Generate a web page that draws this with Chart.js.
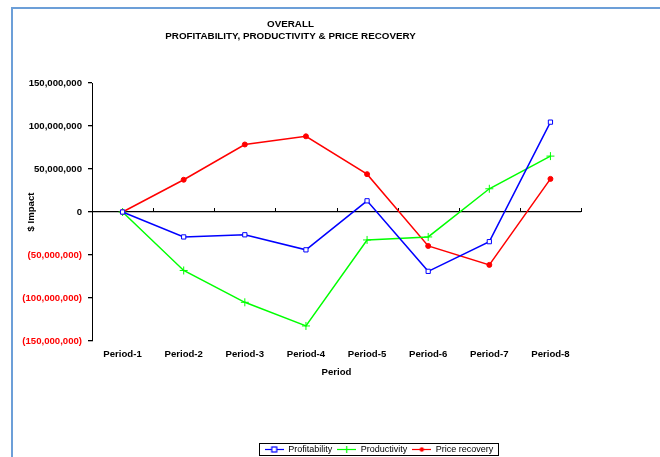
<!DOCTYPE html>
<html>
<head>
<meta charset="utf-8">
<script src="https://cdn.jsdelivr.net/npm/chart.js@4.4.1/dist/chart.umd.min.js"></script>
<style>
  html, body { margin: 0; padding: 0; background: #fff; }
  #wrap { position: relative; width: 660px; height: 457px; overflow: hidden; }
  #frame {
    position: absolute; left: 11px; top: 7px; width: 660px; height: 460px;
    border-top: 2px solid #6c9fd8; border-left: 2px solid #6c9fd8;
    pointer-events: none;
  }
</style>
</head>
<body>
<div id="wrap">
  <canvas id="chart" width="660" height="457"></canvas>
  <div id="frame"></div>
</div>
<script>
// 카테고리 / 시리즈 값
const periods = ['Period-1', 'Period-2', 'Period-3', 'Period-4', 'Period-5', 'Period-6', 'Period-7', 'Period-8'];
const profitability = [0, -29000000, -26500000, -44000000, 13000000, -69000000, -34500000, 104500000];
const productivity = [0, -68000000, -105000000, -132500000, -32500000, -29000000, 27000000, 65000000];
const priceRecovery = [0, 37500000, 78500000, 88000000, 44000000, -39500000, -61500000, 38500000];
const yTicks = [-150000000, -100000000, -50000000, 0, 50000000, 100000000, 150000000];

const FONT = 'Liberation Sans, Arial, sans-serif';

function fmt(v) {
    const s = Math.abs(v).toLocaleString('en-US');
    return v < 0 ? '(' + s + ')' : s;
}

// 범례용 선 + 마커 이미지
function legendIcon(color, style) {
    const c = document.createElement('canvas');
    c.width = 19; c.height = 9;
    const g = c.getContext('2d');
    g.strokeStyle = color; g.lineWidth = 1.2;
    g.beginPath(); g.moveTo(0, 4.5); g.lineTo(19, 4.5); g.stroke();
    g.fillStyle = color;
    if (style === 'rect') {
        g.fillStyle = '#fff';
        g.fillRect(7, 2, 5, 5);
        g.strokeRect(7, 2, 5, 5);
    } else if (style === 'cross') {
        g.beginPath(); g.moveTo(9.5, 1); g.lineTo(9.5, 8); g.stroke();
    } else {
        g.beginPath(); g.arc(9.5, 4.5, 2.2, 0, Math.PI * 2); g.fill();
    }
    return c;
}

// 0 기준선 위의 작은 눈금
const zeroTicks = {
    id: 'zeroTicks',
    beforeDatasetsDraw(chart) {
        const xs = chart.scales.x, ys = chart.scales.y;
        const y0 = ys.getPixelForValue(0);
        const ctx = chart.ctx;
        ctx.save();
        ctx.strokeStyle = '#000';
        ctx.lineWidth = 1;
        ctx.beginPath();
        for (let i = 0; i <= periods.length; i++) {
            const x = Math.round(xs.getPixelForValue(i - 0.5)) + 0.5;
            ctx.moveTo(x, y0);
            ctx.lineTo(x, y0 - 4);
        }
        ctx.stroke();
        ctx.restore();
    }
};

// 범례 위치 옮기기 + 테두리
const legendBox = {
    id: 'legendBox',
    afterLayout(chart) {
        const lg = chart.legend;
        const dx = 379 - (lg.left + lg.right) / 2;
        const dy = 7;
        lg.left += dx; lg.right += dx;
        lg.top += dy; lg.bottom += dy;
    },
    afterDraw(chart) {
        const boxes = chart.legend.legendHitBoxes;
        if (!boxes || !boxes.length) return;
        const first = boxes[0], last = boxes[boxes.length - 1];
        const ctx = chart.ctx;
        ctx.save();
        ctx.strokeStyle = '#000';
        ctx.lineWidth = 1;
        const l = Math.round(first.left) - 5.5, r = Math.round(last.left + last.width) + 5.5;
        const t = Math.round(first.top) - 1.5, b = Math.round(first.top + first.height) + 1.5;
        ctx.strokeRect(l, t, r - l, b - t);
        ctx.restore();
    }
};

const ctx = document.getElementById('chart').getContext('2d');
new Chart(ctx, {
    type: 'line',
    data: {
        labels: periods,
        datasets: [
            {
                label: 'Profitability',
                data: profitability,
                borderColor: '#0000ff',
                backgroundColor: '#ffffff',
                borderWidth: 1.5,
                pointStyle: 'rect',
                pointRadius: 3,
                pointBorderWidth: 1,
                pointBorderColor: '#0000ff',
                tension: 0,
                icon: legendIcon('#0000ff', 'rect')
            },
            {
                label: 'Productivity',
                data: productivity,
                borderColor: '#00ff00',
                backgroundColor: '#00ff00',
                borderWidth: 1.5,
                pointStyle: 'cross',
                pointRadius: 4,
                pointBorderWidth: 1,
                tension: 0,
                icon: legendIcon('#00ff00', 'cross')
            },
            {
                label: 'Price recovery',
                data: priceRecovery,
                borderColor: '#ff0000',
                backgroundColor: '#ff0000',
                borderWidth: 1.5,
                pointStyle: 'circle',
                pointRadius: 2.5,
                pointBorderWidth: 1,
                tension: 0,
                icon: legendIcon('#ff0000', 'circle')
            }
        ]
    },
    options: {
        responsive: false,
        animation: false,
        layout: { padding: { left: 0, right: 79, top: 0, bottom: 0 } },
        plugins: {
            title: {
                display: true,
                text: ['OVERALL', 'PROFITABILITY, PRODUCTIVITY & PRICE RECOVERY'],
                color: '#000',
                font: { family: FONT, size: 9.8, weight: 'bold', lineHeight: 12 / 9.8 },
                padding: { top: 18, bottom: 41 }
            },
            legend: {
                position: 'bottom',
                labels: {
                    color: '#000',
                    font: { family: FONT, size: 9 },
                    usePointStyle: true,
                    pointStyleWidth: 19,
                    padding: 5,
                    generateLabels(chart) {
                        return chart.data.datasets.map((d, i) => ({
                            text: d.label,
                            pointStyle: d.icon,
                            fillStyle: d.borderColor,
                            strokeStyle: d.borderColor,
                            lineWidth: 0,
                            fontColor: '#000',
                            hidden: false,
                            datasetIndex: i
                        }));
                    }
                }
            },
            tooltip: { enabled: false }
        },
        scales: {
            x: {
                offset: true,
                grid: { display: false, drawTicks: false },
                border: { display: false },
                ticks: {
                    color: '#000',
                    font: { family: FONT, size: 9.6, weight: 'bold' },
                    padding: 8,
                    maxRotation: 0
                },
                afterFit(scale) { scale.height = 92; },
                title: {
                    display: true,
                    text: 'Period',
                    color: '#000',
                    font: { family: FONT, size: 9.6, weight: 'bold' },
                    padding: { top: 0, bottom: 55 }
                }
            },
            y: {
                min: yTicks[0],
                max: yTicks[yTicks.length - 1],
                afterBuildTicks(scale) {
                    scale.ticks = yTicks.map(v => ({ value: v }));
                },
                afterFit(scale) { scale.width = 92; },
                grid: {
                    color: c => (c.tick && c.tick.value === 0) ? '#000' : 'rgba(0,0,0,0)',
                    tickColor: '#000',
                    tickLength: 4,
                    lineWidth: 1.3
                },
                border: { display: true, color: '#000', width: 1 },
                ticks: {
                    callback: v => fmt(v),
                    color: c => c.tick.value < 0 ? '#ff0000' : '#000',
                    font: { family: FONT, size: 9.6, weight: 'bold' },
                    padding: 6
                },
                title: {
                    display: true,
                    text: '$ Impact',
                    color: '#000',
                    font: { family: FONT, size: 9.6, weight: 'bold' },
                    padding: { top: 26, bottom: 0 }
                }
            }
        }
    },
    plugins: [zeroTicks, legendBox]
});
</script>
</body>
</html>
